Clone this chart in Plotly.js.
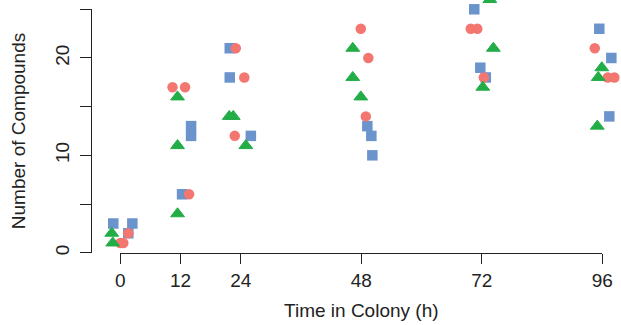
<!DOCTYPE html>
<html>
<head>
<meta charset="utf-8">
<script src="https://cdn.plot.ly/plotly-3.0.1.min.js"></script>
<style>html,body{margin:0;padding:0;background:#fff;}#chart{width:621px;height:325px;}</style>
</head>
<body>
<div id="chart"></div>
<script>
// Red circles
const redX = [0.0, 0.6, 1.6, 10.4, 12.9, 13.7, 23.0, 24.7, 22.8, 47.9, 49.4, 48.9, 69.8, 71.1, 72.4, 94.5, 97.1, 98.4];
const redY = [1, 1, 2, 17, 17, 6, 21, 18, 12, 23, 20, 14, 23, 23, 18, 21, 18, 18];
// Blue squares
const blueX = [-1.4, 2.4, 1.6, 14.1, 14.1, 12.3, 21.8, 21.8, 26.0, 49.2, 50.0, 50.2, 70.5, 71.7, 72.8, 95.4, 97.8, 97.4];
const blueY = [3, 3, 2, 13, 12, 6, 21, 18, 12, 13, 12, 10, 25, 19, 18, 23, 20, 14];
// Green triangles
const greenX = [-1.7, -1.5, 11.4, 11.4, 11.4, 21.7, 22.5, 25.0, 46.3, 46.3, 47.9, 73.6, 74.3, 72.2, 95.9, 95.2, 95.0];
const greenY = [2, 1, 16, 11, 4, 14, 14, 11, 21, 18, 16, 26, 21, 17, 19, 18, 13];

const xTicks = [0, 12, 24, 48, 72, 96];
const yTicks = [0, 5, 10, 15, 20, 25];
const yTickText = ['0', '', '10', '', '20', ''];

const RED = '#F37670', BLUE = '#6B94CD', GREEN = '#22AD47';

const W = 621, H = 325;
// pixel anchors of the drawn axes (axis line spans first to last tick)
const X0PX = 120.3, X96PX = 602.3, Y0PX = 252.7, Y25PX = 9.3, YAXPX = 90.7;
const xPerPx = 96 / (X96PX - X0PX), yPerPx = 25 / (Y0PX - Y25PX);
const fx = px => px / W;
const fy = py => (H - py) / H;

const traces = [
  {x: blueX, y: blueY, type: 'scatter', mode: 'markers',
   marker: {symbol: 'square', size: 10.5, color: BLUE}},
  {x: redX, y: redY, type: 'scatter', mode: 'markers',
   marker: {symbol: 'circle', size: 10.5, color: RED}},
  {x: greenX, y: greenY, type: 'scatter', mode: 'markers',
   marker: {symbol: 'triangle-up', size: 12, color: GREEN, line: {color: GREEN, width: 1}}},
  // empty trace so that the display axes get a subplot
  {x: [], y: [], type: 'scatter', mode: 'markers', xaxis: 'x2', yaxis: 'y2', hoverinfo: 'skip'}
];

const font = {family: 'Liberation Sans, Arial, Helvetica, sans-serif', size: 19, color: '#222'};

const layout = {
  width: W, height: H,
  margin: {l: 0, r: 0, t: 0, b: 0},
  paper_bgcolor: '#fff', plot_bgcolor: 'rgba(0,0,0,0)',
  showlegend: false,
  font: font,
  // data axes: cover the whole picture, invisible
  xaxis: {
    domain: [0, 1],
    range: [(0 - X0PX) * xPerPx, (W - X0PX) * xPerPx],
    visible: false, fixedrange: true
  },
  yaxis: {
    domain: [0, 1],
    range: [(Y0PX - H) * yPerPx, (Y0PX - 0) * yPerPx],
    visible: false, fixedrange: true
  },
  // display axes
  xaxis2: {
    domain: [fx(X0PX), fx(X96PX)],
    range: [0, 96],
    anchor: 'y2',
    tickvals: xTicks, ticktext: xTicks.map(String),
    ticks: 'outside', ticklen: 10, tickwidth: 1, tickcolor: '#222',
    showline: true, linecolor: '#222', linewidth: 1,
    showgrid: false, zeroline: false,
    tickfont: font,
    title: {text: 'Time in Colony (h)', font: font, standoff: 14}
  },
  yaxis2: {
    domain: [fy(Y0PX), fy(Y25PX)],
    range: [0, 25],
    anchor: 'free', position: fx(YAXPX),
    tickvals: yTicks, ticktext: yTickText,
    tickangle: -90,
    ticks: 'outside', ticklen: 11, tickwidth: 1, tickcolor: '#222',
    ticklabelstandoff: 3,
    showline: true, linecolor: '#222', linewidth: 1,
    showgrid: false, zeroline: false,
    tickfont: font,
    title: {text: 'Number of Compounds', font: font, standoff: 20}
  }
};

Plotly.newPlot('chart', traces, layout, {displayModeBar: false, staticPlot: true});
</script>
</body>
</html>
